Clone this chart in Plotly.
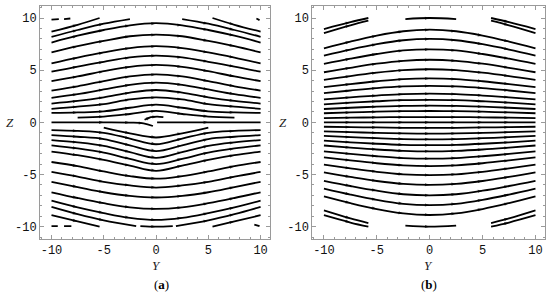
import plotly.graph_objects as go

# ---------------- data ----------------
# stations along the horizontal (Y) axis where each streamline's Z was read
STATIONS = [-10, -7.5, -5, -2.5, 0, 2.5, 5, 7.5, 10]

# panel (a): streamlines above Z = 0 (Z at each station, None = not drawn)
A_UPPER = [
    [7.65, 8.30, 8.85, 9.30, 9.50, 9.30, 8.85, 8.30, 7.65],
    [6.70, 7.30, 7.80, 8.25, 8.40, 8.25, 7.80, 7.30, 6.70],
    [5.65, 6.20, 6.70, 7.12, 7.30, 7.12, 6.70, 6.20, 5.65],
    [4.85, 5.35, 5.80, 6.22, 6.40, 6.22, 5.80, 5.35, 4.85],
    [3.95, 4.40, 4.90, 5.32, 5.50, 5.32, 4.90, 4.40, 3.95],
    [3.05, 3.45, 3.95, 4.40, 4.60, 4.40, 3.95, 3.45, 3.05],
    [2.35, 2.70, 3.15, 3.60, 3.80, 3.60, 3.15, 2.70, 2.35],
    [1.80, 2.05, 2.40, 2.85, 3.10, 2.85, 2.40, 2.05, 1.80],
    [1.30, 1.50, 1.75, 2.20, 2.40, 2.20, 1.75, 1.50, 1.30],
    [0.90, 0.95, 1.05, 1.40, 1.70, 1.40, 1.05, 0.95, 0.90],
    [None, 0.45, 0.55, 0.80, 1.10, 0.80, 0.55, 0.45, None],
]
# panel (a): streamlines below Z = 0
A_LOWER = [
    [None, None, -0.50, -1.05, -1.45, -1.05, -0.50, None, None],
    [-0.74, -0.82, -1.00, -1.55, -2.10, -1.55, -1.00, -0.82, -0.74],
    [-1.22, -1.38, -1.60, -2.20, -2.75, -2.20, -1.60, -1.38, -1.22],
    [-1.70, -1.92, -2.25, -2.85, -3.40, -2.85, -2.25, -1.92, -1.70],
    [-2.20, -2.50, -2.90, -3.50, -4.00, -3.50, -2.90, -2.50, -2.20],
    [-2.80, -3.15, -3.60, -4.15, -4.65, -4.15, -3.60, -3.15, -2.80],
    [-3.80, -4.20, -4.70, -5.15, -5.40, -5.15, -4.70, -4.20, -3.80],
    [-4.75, -5.20, -5.70, -6.05, -6.25, -6.05, -5.70, -5.20, -4.75],
    [-5.70, -6.20, -6.70, -7.05, -7.20, -7.05, -6.70, -6.20, -5.70],
    [-6.70, -7.25, -7.75, -8.15, -8.30, -8.15, -7.75, -7.25, -6.70],
    [-7.50, -8.15, -8.70, -9.15, -9.35, -9.15, -8.70, -8.15, -7.50],
]
# panel (a): broken pieces near the frame and around the origin (Y list, Z list)
A_PIECES_Y = [
    [-10, -9.3], [-8.8, -8.2], [9.6, 9.9],
    [-10, -7.5, -5.4], [5.4, 7.5, 10],
    [-10, -7.5, -5, -2.5], [2.5, 5, 7.5, 10],
    [-10, -9.4], [-8.8, -8.1], [9.4, 9.9],
    [-10, -7.5, -5.4], [5.4, 7.5, 10],
    [-10, -7.5, -5, -1.9], [1.9, 5, 7.5, 10],
    [-1.5, 0, 1.6],
    [-10, -5, -2.5, -1.2, -0.3], [0.1, 5, 10],
    [-1.1, -0.5, 0.1, 0.7],
]
A_PIECES_Z = [
    [9.85, 9.9], [9.9, 9.95], [9.95, 9.8],
    [8.7, 9.35, 10.0], [10.0, 9.35, 8.7],
    [8.2, 8.85, 9.45, 9.9], [9.9, 9.45, 8.85, 8.2],
    [-9.95, -9.95], [-9.95, -9.95], [-9.8, -9.95],
    [-8.9, -9.5, -10.0], [-10.0, -9.5, -8.9],
    [-8.1, -8.8, -9.4, -9.95], [-9.95, -9.4, -8.8, -8.1],
    [-9.95, -10.0, -9.95],
    [0.0, 0.0, -0.02, -0.09, -0.35], [0.0, 0.0, 0.0],
    [0.25, 0.5, 0.55, 0.5],
]

# panel (b): streamlines above Z = 0
B_UPPER = [
    [7.10, 7.74, 8.31, 8.73, 8.88, 8.73, 8.31, 7.74, 7.10],
    [6.40, 6.98, 7.49, 7.87, 8.00, 7.87, 7.49, 6.98, 6.40],
    [5.60, 6.10, 6.55, 6.89, 7.00, 6.89, 6.55, 6.10, 5.60],
    [4.80, 5.23, 5.62, 5.90, 6.00, 5.90, 5.62, 5.23, 4.80],
    [4.07, 4.44, 4.76, 5.00, 5.09, 5.00, 4.76, 4.44, 4.07],
    [3.37, 3.67, 3.94, 4.15, 4.21, 4.15, 3.94, 3.67, 3.37],
    [2.80, 3.05, 3.28, 3.44, 3.50, 3.44, 3.28, 3.05, 2.80],
    [2.20, 2.40, 2.57, 2.71, 2.75, 2.71, 2.57, 2.40, 2.20],
    [1.73, 1.89, 2.02, 2.13, 2.16, 2.13, 2.02, 1.89, 1.73],
    [1.28, 1.40, 1.50, 1.57, 1.60, 1.57, 1.50, 1.40, 1.28],
    [0.87, 0.95, 1.02, 1.07, 1.09, 1.07, 1.02, 0.95, 0.87],
    [0.41, 0.45, 0.48, 0.50, 0.51, 0.50, 0.48, 0.45, 0.41],
    [0.00, 0.00, 0.00, 0.00, 0.00, 0.00, 0.00, 0.00, 0.00],
]
# panel (b): streamlines below Z = 0
B_LOWER = [
    [-0.42, -0.46, -0.49, -0.52, -0.53, -0.52, -0.49, -0.46, -0.42],
    [-0.86, -0.94, -1.01, -1.06, -1.08, -1.06, -1.01, -0.94, -0.86],
    [-1.30, -1.42, -1.52, -1.60, -1.63, -1.60, -1.52, -1.42, -1.30],
    [-1.75, -1.91, -2.05, -2.15, -2.19, -2.15, -2.05, -1.91, -1.75],
    [-2.22, -2.42, -2.60, -2.73, -2.78, -2.73, -2.60, -2.42, -2.22],
    [-2.78, -3.03, -3.25, -3.42, -3.48, -3.42, -3.25, -3.03, -2.78],
    [-3.35, -3.65, -3.92, -4.12, -4.19, -4.12, -3.92, -3.65, -3.35],
    [-4.05, -4.41, -4.74, -4.98, -5.06, -4.98, -4.74, -4.41, -4.05],
    [-4.80, -5.23, -5.62, -5.90, -6.00, -5.90, -5.62, -5.23, -4.80],
    [-5.60, -6.10, -6.55, -6.89, -7.00, -6.89, -6.55, -6.10, -5.60],
    [-6.35, -6.92, -7.43, -7.81, -7.94, -7.81, -7.43, -6.92, -6.35],
    [-7.10, -7.74, -8.31, -8.73, -8.88, -8.73, -8.31, -7.74, -7.10],
]
# panel (b): broken pieces near the top and bottom of the frame
B_PIECES_Y = [
    [-10, -7.5, -5.8], [5.8, 7.5, 10],
    [-10, -7.5, -5.8], [5.8, 7.5, 10],
    [-2.3, 0, 2.5],
    [-10, -7.5, -5.8], [5.8, 7.5, 10],
    [-10, -7.5, -5.8], [5.8, 7.5, 10],
    [-2.3, 0, 2.5],
]
B_PIECES_Z = [
    [8.94, 9.6, 10.0], [10.0, 9.6, 8.94],
    [8.56, 9.3, 9.75], [9.75, 9.3, 8.56],
    [9.9, 10.0, 9.9],
    [-8.9, -9.6, -10.0], [-10.0, -9.6, -8.9],
    [-8.43, -9.2, -9.65], [-9.65, -9.2, -8.43],
    [-9.9, -10.0, -9.9],
]

TICKS = [-10, -5, 0, 5, 10]
TICK_TEXT = ["-10", "-5", "0", "5", "10"]
PANEL_LABELS = ["(<b>a</b>)", "(<b>b</b>)"]
AXIS_LABEL_X = "Y"
AXIS_LABEL_Y = "Z"

# ---------------- figure ----------------
fig = go.Figure()


def add_curve(ys, zs, xa, ya):
    seg_y, seg_z = [], []
    segments = []
    for y, z in zip(ys, zs):
        if z is None:
            if len(seg_y) > 1:
                segments.append((seg_y, seg_z))
            seg_y, seg_z = [], []
        else:
            seg_y.append(y)
            seg_z.append(z)
    if len(seg_y) > 1:
        segments.append((seg_y, seg_z))
    for sy, sz in segments:
        n = len(sy)
        sizes = [0] + [5] * (n - 2) + [0] if n > 2 else [0, 0]
        fig.add_trace(go.Scatter(
            x=sy, y=sz, xaxis=xa, yaxis=ya, mode="lines+markers",
            line=dict(color="black", width=1.8, shape="spline"),
            marker=dict(symbol="arrow", angleref="previous", size=sizes,
                        color="black", line=dict(width=0)),
            hoverinfo="skip", showlegend=False,
        ))


for z in A_UPPER + A_LOWER:
    add_curve(STATIONS, z, "x", "y")
for yy, zz in zip(A_PIECES_Y, A_PIECES_Z):
    add_curve(yy, zz, "x", "y")
for z in B_UPPER + B_LOWER:
    add_curve(STATIONS, z, "x2", "y2")
for yy, zz in zip(B_PIECES_Y, B_PIECES_Z):
    add_curve(yy, zz, "x2", "y2")

W, H = 550, 298
frame_col = "#9a9a9a"
tick_font = dict(family="Liberation Mono", size=12, color="#111")

common = dict(
    tickvals=TICKS, ticktext=TICK_TEXT, ticks="inside", ticklen=4,
    tickcolor=frame_col, showline=True, linecolor=frame_col, linewidth=1,
    mirror="ticks", showgrid=False, zeroline=False, tickfont=tick_font,
    minor=dict(dtick=1, ticks="inside", ticklen=2, tickcolor=frame_col),
)

ydom = [1 - 238.7 / H, 1 - 6 / H]
fig.update_layout(
    width=W, height=H, margin=dict(l=0, r=0, t=0, b=0),
    paper_bgcolor="white", plot_bgcolor="white",
    xaxis=dict(domain=[40 / W, 270 / W], range=[-11.1, 10.9], anchor="y", **common),
    yaxis=dict(domain=ydom, range=[-11.15, 11.15], anchor="x", **common),
    xaxis2=dict(domain=[312.3 / W, 545 / W], range=[-11.1, 10.9], anchor="y2", **common),
    yaxis2=dict(domain=ydom, range=[-11.15, 11.15], anchor="x2", **common),
)

lab_font = dict(family="Liberation Serif", size=13, color="#222")
for cx, zx in [(156, 10), (428.5, 283)]:
    fig.add_annotation(x=cx / W, y=1 - 265 / H, xref="paper", yref="paper",
                       text="<i>" + AXIS_LABEL_X + "</i>", showarrow=False,
                       font=lab_font, xanchor="center", yanchor="middle")
    fig.add_annotation(x=zx / W, y=1 - 122.3 / H, xref="paper", yref="paper",
                       text="<i>" + AXIS_LABEL_Y + "</i>", showarrow=False,
                       font=lab_font, xanchor="center", yanchor="middle")
for pcx, lab in zip([161, 429], PANEL_LABELS):
    fig.add_annotation(x=pcx / W, y=1 - 284 / H, xref="paper", yref="paper",
                       text=lab, showarrow=False,
                       font=dict(family="Liberation Serif", size=13, color="black"),
                       xanchor="center", yanchor="middle")

fig.write_html("out.html", config={"displayModeBar": False},
               post_script="document.body.style.margin='0px';")
